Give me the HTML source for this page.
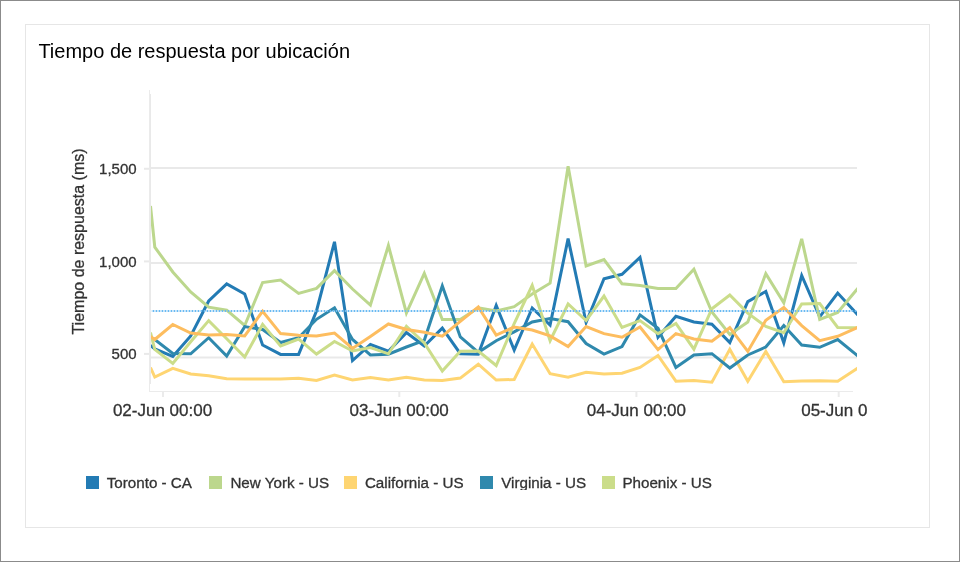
<!DOCTYPE html>
<html><head><meta charset="utf-8"><style>
html,body{margin:0;padding:0;background:#fff;}
body{width:960px;height:562px;overflow:hidden;position:relative;}
svg{position:absolute;left:0;top:0;}
text{font-family:"Liberation Sans", Arial, Helvetica, sans-serif;}
.t{stroke:#333;stroke-width:0.3px;}
</style></head><body>
<svg width="960" height="562" viewBox="0 0 960 562">
<rect x="0.5" y="0.5" width="959" height="561" fill="#fff" stroke="#8b8b8b" stroke-width="1"/>
<rect x="25.5" y="24.5" width="904" height="503" fill="#fff" stroke="#e6e6e6" stroke-width="1"/>
<text x="38.4" y="58" font-size="20" fill="#000">Tiempo de respuesta por ubicación</text>
<!-- gridlines -->
<g fill="#e9e9e9">
<rect x="150" y="167" width="707" height="2"/>
<rect x="150" y="262" width="707" height="2"/>
<rect x="150" y="356.5" width="707" height="2"/>
<rect x="144" y="167.75" width="6" height="2"/>
<rect x="144" y="260.4" width="6" height="2"/>
<rect x="144" y="352.9" width="6" height="2"/>
<rect x="149" y="94" width="2" height="290"/>
</g>
<g fill="#ebebeb">
<rect x="149" y="90" width="1" height="302"/>
<rect x="149" y="391" width="704" height="1"/>
<rect x="162" y="391" width="2" height="6"/>
<rect x="398.3" y="391" width="2" height="6"/>
<rect x="635.4" y="391" width="2" height="6"/>
<rect x="837.7" y="391" width="2" height="6"/>
</g>
<g font-size="15" fill="#333" text-anchor="end" class="t">
<text x="136.6" y="173.9">1,500</text>
<text x="136.6" y="266.9">1,000</text>
<text x="136.6" y="358.9">500</text>
</g>
<text transform="translate(83.5,241.5) rotate(-90)" font-size="16" fill="#333" text-anchor="middle" class="t">Tiempo de respuesta (ms)</text>
<g font-size="17" fill="#333" text-anchor="middle" class="t">
<text x="162.5" y="416">02-Jun 00:00</text>
<text x="399.2" y="416">03-Jun 00:00</text>
<text x="636.4" y="416">04-Jun 00:00</text>
</g>
<text x="801.2" y="416" font-size="17" fill="#333" class="t">05-Jun 0</text>
<line x1="150.5" y1="311" x2="857" y2="311" stroke="#e8f4fc" stroke-width="2"/>
<defs><clipPath id="pc"><rect x="151" y="80" width="706" height="320"/></clipPath></defs>
<g fill="none" stroke-width="3" stroke-linejoin="miter" stroke-miterlimit="4" clip-path="url(#pc)">
<path d="M150.5,345.5 L154.8,349.0 L172.8,356.5 L190.7,336.0 L208.7,301.0 L226.7,283.9 L244.7,294.0 L262.6,345.0 L280.6,354.4 L298.6,354.4 L316.5,311.0 L334.5,241.8 L352.5,360.5 L370.4,344.5 L388.4,351.2 L406.4,332.6 L424.3,346.0 L442.3,328.1 L460.3,353.7 L478.3,354.2 L496.2,305.5 L514.2,350.0 L532.2,308.0 L550.1,325.0 L568.1,238.6 L586.1,322.5 L604.0,278.8 L622.0,274.3 L640.0,257.5 L658.0,337.2 L675.9,316.3 L693.9,322.0 L711.9,324.2 L729.8,342.5 L747.8,301.6 L765.8,291.5 L783.8,342.8 L801.7,275.5 L819.7,316.8 L837.7,293.1 L855.6,312.5 L860.0,317.2" stroke="#237bb4"/>
<path d="M150.5,206.0 L154.8,247.1 L172.8,272.0 L190.7,292.0 L208.7,307.2 L226.7,310.2 L244.7,325.5 L262.6,282.5 L280.6,280.1 L298.6,293.4 L316.5,288.4 L334.5,270.6 L352.5,289.0 L370.4,305.0 L388.4,245.5 L406.4,313.0 L424.3,273.3 L442.3,319.5 L460.3,319.5 L478.3,307.8 L496.2,311.0 L514.2,306.7 L532.2,294.0 L550.1,283.2 L568.1,166.3 L586.1,266.0 L604.0,259.5 L622.0,283.7 L640.0,285.5 L658.0,288.5 L675.9,288.5 L693.9,269.3 L711.9,312.0 L729.8,334.5 L747.8,322.0 L765.8,273.6 L783.8,302.8 L801.7,238.8 L819.7,319.5 L837.7,312.5 L855.6,291.0 L860.0,285.8" stroke="#bcd78d"/>
<path d="M150.5,367.5 L154.8,377.0 L172.8,368.3 L190.7,374.0 L208.7,375.8 L226.7,378.7 L244.7,379.0 L262.6,379.0 L280.6,379.0 L298.6,378.3 L316.5,380.4 L334.5,375.1 L352.5,379.9 L370.4,377.6 L388.4,379.9 L406.4,377.2 L424.3,379.9 L442.3,380.4 L460.3,378.1 L478.3,364.2 L496.2,380.0 L514.2,379.5 L532.2,344.0 L550.1,373.7 L568.1,377.2 L586.1,372.2 L604.0,374.0 L622.0,373.3 L640.0,367.4 L658.0,355.5 L675.9,381.2 L693.9,380.4 L711.9,382.2 L729.8,349.4 L747.8,381.2 L765.8,351.5 L783.8,381.7 L801.7,381.0 L819.7,380.8 L837.7,381.2 L855.6,369.5 L860.0,366.7" stroke="#fed572"/>
<path d="M150.5,337.5 L154.8,339.5 L172.8,353.5 L190.7,353.8 L208.7,337.7 L226.7,356.0 L244.7,326.6 L262.6,329.5 L280.6,342.5 L298.6,337.7 L316.5,319.3 L334.5,307.8 L352.5,339.5 L370.4,355.0 L388.4,354.2 L406.4,347.0 L424.3,340.3 L442.3,285.8 L460.3,336.9 L478.3,352.3 L496.2,340.7 L514.2,331.8 L532.2,322.0 L550.1,318.5 L568.1,321.7 L586.1,343.5 L604.0,354.1 L622.0,346.6 L640.0,314.9 L658.0,328.3 L675.9,367.4 L693.9,355.0 L711.9,353.7 L729.8,368.0 L747.8,355.0 L765.8,347.0 L783.8,325.6 L801.7,345.0 L819.7,347.3 L837.7,339.5 L855.6,354.1 L860.0,357.7" stroke="#2f89ad"/>
<path d="M150.5,332.5 L154.8,349.5 L172.8,363.5 L190.7,341.8 L208.7,320.6 L226.7,338.7 L244.7,357.0 L262.6,324.3 L280.6,346.0 L298.6,339.0 L316.5,354.1 L334.5,341.4 L352.5,351.0 L370.4,347.5 L388.4,353.8 L406.4,326.2 L424.3,343.0 L442.3,371.0 L460.3,351.3 L478.3,351.0 L496.2,365.5 L514.2,323.5 L532.2,285.3 L550.1,340.7 L568.1,304.0 L586.1,320.5 L604.0,296.0 L622.0,327.4 L640.0,320.6 L658.0,333.6 L675.9,323.5 L693.9,349.2 L711.9,308.7 L729.8,295.0 L747.8,313.1 L765.8,326.5 L783.8,332.7 L801.7,303.9 L819.7,303.6 L837.7,327.4 L855.6,327.7 L860.0,327.8" stroke="#cbdd8a"/>
<path d="M150.5,336.5 L154.8,339.5 L172.8,324.5 L190.7,333.0 L208.7,335.0 L226.7,334.5 L244.7,336.0 L262.6,311.3 L280.6,333.6 L298.6,335.3 L316.5,336.0 L334.5,333.0 L352.5,348.4 L370.4,336.5 L388.4,324.0 L406.4,329.5 L424.3,332.2 L442.3,336.2 L460.3,321.3 L478.3,306.9 L496.2,335.0 L514.2,327.0 L532.2,330.0 L550.1,335.9 L568.1,346.6 L586.1,326.5 L604.0,333.6 L622.0,337.2 L640.0,327.0 L658.0,349.6 L675.9,333.6 L693.9,339.0 L711.9,341.3 L729.8,327.7 L747.8,351.4 L765.8,320.3 L783.8,307.4 L801.7,325.6 L819.7,340.7 L837.7,336.3 L855.6,328.3 L860.0,326.4" stroke="#fdbd5f"/>
</g>
<line x1="152.7" y1="311" x2="857" y2="311" stroke="#6abaf2" stroke-width="2" stroke-dasharray="1.5 1.5"/>
<g>
<rect x="86" y="476" width="13" height="13" fill="#237bb4"/>
<rect x="209" y="476" width="13" height="13" fill="#bcd78d"/>
<rect x="344" y="476" width="13" height="13" fill="#fed572"/>
<rect x="480" y="476" width="13" height="13" fill="#2f89ad"/>
<rect x="602" y="476" width="13" height="13" fill="#cbdd8a"/>
</g>
<clipPath id="lc"><rect x="0" y="460" width="960" height="30"/></clipPath>
<g font-size="15.2" fill="#333" class="t" clip-path="url(#lc)">
<text x="106.7" y="488">Toronto - CA</text>
<text x="230.4" y="488">New York - US</text>
<text x="364.9" y="488">California - US</text>
<text x="501.2" y="488">Virginia - US</text>
<text x="622.4" y="488">Phoenix - US</text>
</g>
</svg>
</body></html>
